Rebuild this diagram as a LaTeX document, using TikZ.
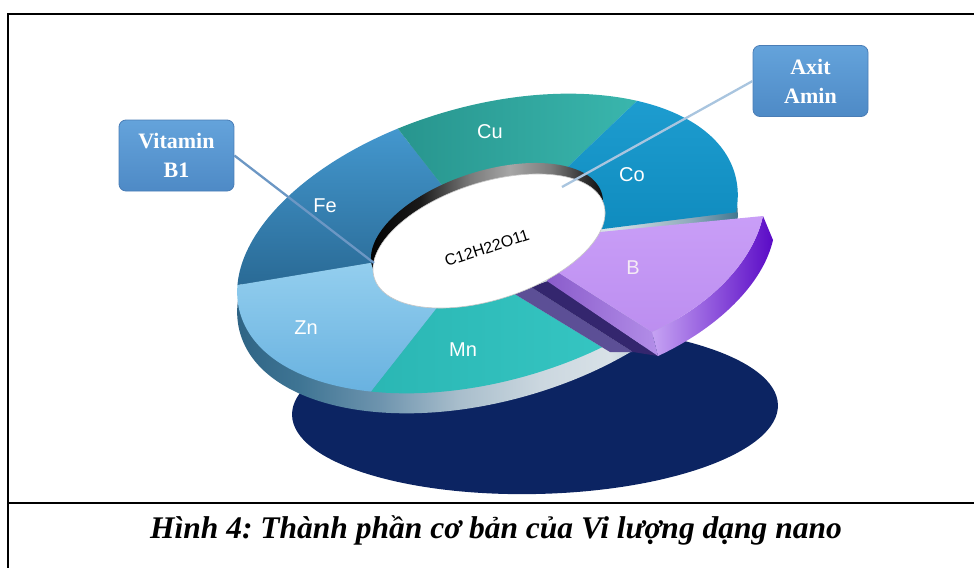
\documentclass[tikz,border=0pt]{standalone}
\usepackage{fontspec}
\setmainfont{Liberation Serif}
\newfontfamily\lsans{Liberation Sans}
\usetikzlibrary{calc}
\frenchspacing
\definecolor{navy}{HTML}{0C2462}
\definecolor{feTop}{HTML}{4AA2DC}
\definecolor{feBot}{HTML}{276690}
\definecolor{cuL}{HTML}{27948D}
\definecolor{cuR}{HTML}{3AB7AE}
\definecolor{coT}{HTML}{1E9DD0}
\definecolor{coB}{HTML}{0F8BBE}
\definecolor{znT}{HTML}{96D0EF}
\definecolor{znB}{HTML}{66B0DF}
\definecolor{mnL}{HTML}{2AB6B3}
\definecolor{mnR}{HTML}{36C6C3}
\definecolor{bTop}{HTML}{C99EF7}
\definecolor{bBot}{HTML}{BC8EF0}
\definecolor{bSideL}{HTML}{C6A3F3}
\definecolor{bSideR}{HTML}{5A0AC6}
\definecolor{bFrontL}{HTML}{8A5CCB}
\definecolor{bFrontR}{HTML}{B38EE8}
\definecolor{gapA}{HTML}{5C4F96}
\definecolor{gapB}{HTML}{34266E}
\definecolor{boxT}{HTML}{64A3DB}
\definecolor{boxB}{HTML}{4E8AC6}
\definecolor{boxBorder}{HTML}{4A7DB6}
\definecolor{lineV}{HTML}{6C97C4}
\definecolor{lineA}{HTML}{A9C5DF}
\definecolor{rsA}{HTML}{2D6283}
\definecolor{rsB}{HTML}{3F7594}
\definecolor{rsC}{HTML}{6E94AE}
\definecolor{rsD}{HTML}{A9BECC}
\definecolor{rsE}{HTML}{CBD7DF}
\definecolor{rsF}{HTML}{D8E1E7}
\definecolor{rsG}{HTML}{8FAABB}
\definecolor{rsH}{HTML}{36708A}
\definecolor{hbA}{HTML}{000000}
\definecolor{hbB}{HTML}{1A1A1A}
\definecolor{hbC}{HTML}{7A7A7A}
\definecolor{hbD}{HTML}{A6A6A6}
\definecolor{hbE}{HTML}{7C7C7C}
\definecolor{hbF}{HTML}{303030}
\pgfdeclarehorizontalshading{ringside}{100bp}{color(0bp)=(rsA); color(25bp)=(rsA); color(31.8bp)=(rsB); color(39.6bp)=(rsC); color(47.3bp)=(rsD); color(55.1bp)=(rsE); color(61.9bp)=(rsF); color(69.7bp)=(rsG); color(75bp)=(rsH); color(100bp)=(rsH)}
\pgfdeclarehorizontalshading{holeband}{100bp}{color(0bp)=(hbA); color(25bp)=(hbA); color(36.2bp)=(hbB); color(46.4bp)=(hbC); color(54.6bp)=(hbD); color(62.8bp)=(hbE); color(69.9bp)=(hbF); color(75bp)=(hbA); color(100bp)=(hbA)}
\tikzset{
  seglabel/.style={text=white, font=\lsans\fontsize{20}{24}\selectfont, inner sep=0pt},
  callout/.style={draw=boxBorder, line width=0.8pt, top color=boxT, bottom color=boxB,
    rounded corners=7pt, minimum width=115pt, minimum height=71pt, inner sep=0pt,
    text=white, align=center, font=\bfseries\fontsize{22}{29}\selectfont},
  frameline/.style={line width=2.2pt, black}
}
\begin{document}
\begin{tikzpicture}[x=1pt,y=-1pt]
\useasboundingbox (0,0) rectangle (974,568);
% key points
\coordinate (C) at (487.5,243.5);
\coordinate (Cs) at (487.5,263.5);
\coordinate (pZn) at (238,285);
\coordinate (pCu) at (395,125);
\coordinate (pCo) at (640,98);
\coordinate (pB) at (738,212);
\coordinate (pMn) at (370,393);
\coordinate (mA) at (513,293);
\coordinate (mB) at (610,352);
% shadow disk
\fill[navy, rotate around={1.2:(535,410)}] (535,410) ellipse [x radius=243pt, y radius=84pt];
% ring outer wall
\begin{scope}
  \clip[rotate around={15.6:(Cs)}] (Cs) ellipse [x radius=257pt, y radius=138pt];
  \shade[shading=ringside] (230,100) rectangle (745,430);
\end{scope}
% ring top faces
\begin{scope}
  \clip[rotate around={15.6:(C)}] (C) ellipse [x radius=257pt, y radius=138pt];
  \begin{scope}
    \clip (C) -- ($(C)!4!(pZn)$) -- ($(C)!4!(pCu)$) -- cycle;
    \shade[top color=feTop, bottom color=feBot] (230,90) rectangle (460,300);
  \end{scope}
  \begin{scope}
    \clip (C) -- ($(C)!4!(pCu)$) -- ($(C)!4!(pCo)$) -- cycle;
    \shade[left color=cuL, right color=cuR] (390,90) rectangle (645,200);
  \end{scope}
  \begin{scope}
    \clip (C) -- ($(C)!4!(pCo)$) -- ($(C)!4!(pB)$) -- cycle;
    \shade[top color=coT, bottom color=coB] (550,95) rectangle (745,235);
  \end{scope}
  \begin{scope}
    \clip (C) -- ($(C)!4!(pZn)$) -- ($(C)!4!(pMn)$) -- cycle;
    \shade[top color=znT, bottom color=znB] (230,255) rectangle (440,400);
  \end{scope}
  \begin{scope}
    \clip (C) -- ($(C)!4!(pMn)$) -- ($(mA)!4!(mB)$) -- (mA) -- cycle;
    \shade[left color=mnL, right color=mnR] (360,280) rectangle (625,400);
  \end{scope}
\end{scope}
% gap faces
\fill[gapA] (mA) -- (531,287) -- (633,352) -- (mB) -- cycle;
\fill[gapB] (531,287) -- (548,281) -- (658,356) -- (633,352) -- cycle;
% B slice
\coordinate (T1) at (600,232);
\coordinate (T2) at (763,216);
\coordinate (T2b) at (773,240);
\coordinate (T3) at (652,332);
\coordinate (T3b) at (658,356);
\coordinate (T4) at (556,271);
\coordinate (T4b) at (547,281);
\shade[left color=bSideL, right color=bSideR] (T2) -- (T2b) .. controls (763,284) and (718,328) .. (T3b) -- (T3) .. controls (710,306) and (753,262) .. (T2) -- cycle;
\shade[left color=bFrontL, right color=bFrontR] (T4) -- (T3) -- (T3b) -- (T4b) -- cycle;
\shade[top color=bTop, bottom color=bBot] (T1) -- (T2) .. controls (753,262) and (710,306) .. (T3) -- (T4) .. controls (575,258) and (590,244) .. (T1) -- cycle;
% hole wall and centre disk
\begin{scope}
  \clip[rotate around={18:(487,230)}] (487,230) ellipse [x radius=120.5pt, y radius=58.6pt];
  \shade[shading=holeband] (365,160) rectangle (610,300);
\end{scope}
\filldraw[fill=white, draw=gray!45, line width=0.6pt, rotate around={18:(489,241)}] (489,241) ellipse [x radius=120.5pt, y radius=58.6pt];
\node[rotate=18, font=\lsans\fontsize{16}{19}\selectfont, inner sep=0pt] (formula) at (487,248) {C12H22O11};
% segment labels
\node[seglabel] (lCu) at (490,132) {Cu};
\node[seglabel] (lCo) at (632,175) {Co};
\node[seglabel] (lFe) at (325,206) {Fe};
\node[seglabel] (lZn) at (306,328) {Zn};
\node[seglabel] (lMn) at (463,350) {Mn};
\node[seglabel, text=white!92!violet] (lB) at (633,268) {B};
% callouts
\node[callout] (vit) at (176.5,155.5) {Vitamin\\B1};
\node[callout] (axit) at (810.5,81) {Axit\\Amin};
\coordinate (vitend) at (374,263);
\coordinate (axitend) at (562,187);
\draw[lineV, line width=2.3pt] (vit.east) -- (vitend);
\draw[lineA, line width=2.3pt] (axit.west) -- (axitend);
% frame and caption
\draw[frameline] (974,14) -- (8,14) -- (8,568);
\draw[frameline] (8,503) -- (974,503);
\node[anchor=base, font=\bfseries\itshape\fontsize{31.5}{36}\selectfont, inner sep=0pt] (cap) at (496,538) {Hình 4: Thành phần cơ bản của Vi lượng dạng nano};
\end{tikzpicture}
\end{document}
